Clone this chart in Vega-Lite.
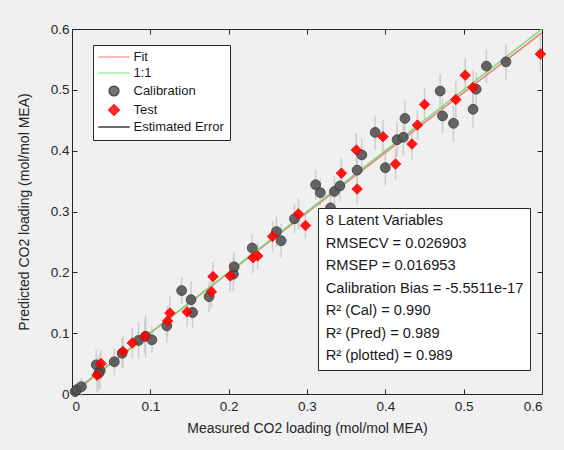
{
  "$schema": "https://vega.github.io/schema/vega-lite/v6.json",
  "width": 470,
  "height": 365,
  "autosize": {"type": "none"},
  "padding": {"left": 72, "top": 29, "right": 22, "bottom": 56},
  "background": "#f0f0f0",
  "config": {
    "font": "Liberation Sans",
    "view": {"fill": "white", "stroke": "#262626", "strokeWidth": 1},
    "axis": {
      "grid": false,
      "domain": false,
      "tickColor": "#262626",
      "tickSize": -5,
      "labelColor": "#262626",
      "labelFontSize": 13.5,
      "titleColor": "#262626",
      "titleFontSize": 14,
      "titleFontWeight": "normal"
    },
    "legend": {
      "labelFont": "Liberation Sans",
      "labelColor": "#1a1a1a",
      "labelFontSize": 13,
      "labelLimit": 320
    }
  },
  "datasets": {
    "pts": [
      {"s": "Calibration", "m": 0.004, "p": 0.004, "e": 0.010},
      {"s": "Calibration", "m": 0.006, "p": 0.007, "e": 0.012},
      {"s": "Calibration", "m": 0.012, "p": 0.012, "e": 0.015},
      {"s": "Calibration", "m": 0.031, "p": 0.048, "e": 0.025},
      {"s": "Calibration", "m": 0.036, "p": 0.038, "e": 0.030},
      {"s": "Calibration", "m": 0.034, "p": 0.034, "e": 0.028},
      {"s": "Calibration", "m": 0.054, "p": 0.053, "e": 0.022},
      {"s": "Calibration", "m": 0.064, "p": 0.067, "e": 0.025},
      {"s": "Calibration", "m": 0.085, "p": 0.088, "e": 0.030},
      {"s": "Calibration", "m": 0.094, "p": 0.095, "e": 0.035},
      {"s": "Calibration", "m": 0.102, "p": 0.089, "e": 0.022},
      {"s": "Calibration", "m": 0.121, "p": 0.112, "e": 0.028},
      {"s": "Calibration", "m": 0.140, "p": 0.170, "e": 0.022},
      {"s": "Calibration", "m": 0.152, "p": 0.155, "e": 0.030},
      {"s": "Calibration", "m": 0.154, "p": 0.134, "e": 0.025},
      {"s": "Calibration", "m": 0.175, "p": 0.160, "e": 0.025},
      {"s": "Calibration", "m": 0.206, "p": 0.197, "e": 0.028},
      {"s": "Calibration", "m": 0.207, "p": 0.209, "e": 0.025},
      {"s": "Calibration", "m": 0.230, "p": 0.240, "e": 0.022},
      {"s": "Calibration", "m": 0.261, "p": 0.267, "e": 0.025},
      {"s": "Calibration", "m": 0.267, "p": 0.252, "e": 0.028},
      {"s": "Calibration", "m": 0.284, "p": 0.288, "e": 0.025},
      {"s": "Calibration", "m": 0.311, "p": 0.344, "e": 0.025},
      {"s": "Calibration", "m": 0.317, "p": 0.331, "e": 0.022},
      {"s": "Calibration", "m": 0.330, "p": 0.306, "e": 0.025},
      {"s": "Calibration", "m": 0.335, "p": 0.333, "e": 0.025},
      {"s": "Calibration", "m": 0.342, "p": 0.342, "e": 0.025},
      {"s": "Calibration", "m": 0.364, "p": 0.368, "e": 0.030},
      {"s": "Calibration", "m": 0.370, "p": 0.393, "e": 0.028},
      {"s": "Calibration", "m": 0.387, "p": 0.430, "e": 0.028},
      {"s": "Calibration", "m": 0.400, "p": 0.372, "e": 0.030},
      {"s": "Calibration", "m": 0.415, "p": 0.418, "e": 0.028},
      {"s": "Calibration", "m": 0.423, "p": 0.422, "e": 0.030},
      {"s": "Calibration", "m": 0.425, "p": 0.453, "e": 0.030},
      {"s": "Calibration", "m": 0.470, "p": 0.498, "e": 0.028},
      {"s": "Calibration", "m": 0.473, "p": 0.457, "e": 0.028},
      {"s": "Calibration", "m": 0.487, "p": 0.445, "e": 0.030},
      {"s": "Calibration", "m": 0.512, "p": 0.468, "e": 0.030},
      {"s": "Calibration", "m": 0.516, "p": 0.501, "e": 0.028},
      {"s": "Calibration", "m": 0.529, "p": 0.539, "e": 0.028},
      {"s": "Calibration", "m": 0.554, "p": 0.546, "e": 0.030},
      {"s": "Test", "m": 0.032, "p": 0.031, "e": 0.028},
      {"s": "Test", "m": 0.037, "p": 0.050, "e": 0.022},
      {"s": "Test", "m": 0.065, "p": 0.070, "e": 0.025},
      {"s": "Test", "m": 0.077, "p": 0.084, "e": 0.025},
      {"s": "Test", "m": 0.093, "p": 0.095, "e": 0.028},
      {"s": "Test", "m": 0.122, "p": 0.120, "e": 0.025},
      {"s": "Test", "m": 0.125, "p": 0.133, "e": 0.028},
      {"s": "Test", "m": 0.147, "p": 0.135, "e": 0.025},
      {"s": "Test", "m": 0.178, "p": 0.168, "e": 0.028},
      {"s": "Test", "m": 0.180, "p": 0.193, "e": 0.025},
      {"s": "Test", "m": 0.202, "p": 0.194, "e": 0.025},
      {"s": "Test", "m": 0.231, "p": 0.224, "e": 0.025},
      {"s": "Test", "m": 0.237, "p": 0.227, "e": 0.022},
      {"s": "Test", "m": 0.256, "p": 0.259, "e": 0.025},
      {"s": "Test", "m": 0.289, "p": 0.296, "e": 0.025},
      {"s": "Test", "m": 0.298, "p": 0.277, "e": 0.022},
      {"s": "Test", "m": 0.344, "p": 0.363, "e": 0.025},
      {"s": "Test", "m": 0.363, "p": 0.401, "e": 0.028},
      {"s": "Test", "m": 0.364, "p": 0.337, "e": 0.025},
      {"s": "Test", "m": 0.397, "p": 0.423, "e": 0.028},
      {"s": "Test", "m": 0.413, "p": 0.378, "e": 0.025},
      {"s": "Test", "m": 0.434, "p": 0.411, "e": 0.025},
      {"s": "Test", "m": 0.441, "p": 0.442, "e": 0.025},
      {"s": "Test", "m": 0.450, "p": 0.476, "e": 0.028},
      {"s": "Test", "m": 0.490, "p": 0.484, "e": 0.030},
      {"s": "Test", "m": 0.502, "p": 0.524, "e": 0.028},
      {"s": "Test", "m": 0.512, "p": 0.504, "e": 0.028},
      {"s": "Test", "m": 0.598, "p": 0.559, "e": 0.030}
    ],
    "lines": [
      {"x": 0, "fit": 0.002, "one": 0},
      {"x": 0.6, "fit": 0.594, "one": 0.6}
    ],
    "stats": [
      {"stat": "8 Latent Variables"},
      {"stat": "RMSECV = 0.026903"},
      {"stat": "RMSEP = 0.016953"},
      {"stat": "Calibration Bias = -5.5511e-17"},
      {"stat": "R² (Cal) = 0.990"},
      {"stat": "R² (Pred) = 0.989"},
      {"stat": "R² (plotted) = 0.989"}
    ]
  },
  "resolve": {"axis": {"x": "independent", "y": "independent"}},
  "layer": [
    {
      "data": {"name": "pts"},
      "mark": {"type": "errorbar", "color": "#c4c4c4", "opacity": 0.8, "thickness": 1.5},
      "encoding": {
        "x": {"field": "m", "type": "quantitative", "scale": {"domain": [0, 0.6], "nice": false},
              "axis": {"title": "Measured CO2 loading (mol/mol MEA)", "values": [0, 0.1, 0.2, 0.3, 0.4, 0.5, 0.6], "format": "~g", "labelPadding": 10, "titlePadding": 9}},
        "y": {"field": "p", "type": "quantitative", "scale": {"domain": [0, 0.6], "nice": false},
              "axis": {"title": "Predicted CO2 loading (mol/mol MEA)", "values": [0, 0.1, 0.2, 0.3, 0.4, 0.5, 0.6], "format": "~g", "labelPadding": 8, "titlePadding": 19}},
        "yError": {"field": "e"}
      }
    },
    {
      "data": {"name": "lines"},
      "mark": {"type": "line", "color": "#f07878", "strokeWidth": 1.5},
      "encoding": {
        "x": {"field": "x", "type": "quantitative", "axis": null},
        "y": {"field": "fit", "type": "quantitative", "axis": null}
      }
    },
    {
      "data": {"name": "lines"},
      "mark": {"type": "line", "color": "#6fdc6f", "strokeWidth": 1.5},
      "encoding": {
        "x": {"field": "x", "type": "quantitative",
              "axis": {"orient": "top", "labels": false, "title": null, "values": [0, 0.1, 0.2, 0.3, 0.4, 0.5, 0.6]}},
        "y": {"field": "one", "type": "quantitative",
              "axis": {"orient": "right", "labels": false, "title": null, "values": [0, 0.1, 0.2, 0.3, 0.4, 0.5, 0.6]}}
      }
    },
    {
      "data": {"name": "pts"},
      "mark": {"type": "point", "filled": true, "opacity": 0.9, "strokeWidth": 1},
      "encoding": {
        "x": {"field": "m", "type": "quantitative", "axis": null},
        "y": {"field": "p", "type": "quantitative", "axis": null},
        "shape": {"field": "s", "type": "nominal",
                  "scale": {"domain": ["Fit", "1:1", "Calibration", "Test", "Estimated Error"], "range": ["M-3,0H3", "M-3,0H3", "circle", "diamond", "M-3,0H3"]},
                  "legend": {"title": null, "orient": "none", "legendX": 21, "legendY": 16, "fillColor": "white", "strokeColor": "#262626", "padding": 5.5, "rowPadding": 2, "symbolStrokeWidth": 1.5, "symbolOffset": 9, "labelOffset": 13}},
        "fill": {"field": "s", "type": "nominal",
                 "scale": {"domain": ["Fit", "1:1", "Calibration", "Test", "Estimated Error"], "range": ["#ff9a9a", "#9aee9a", "#555555", "#ff0000", "#262626"]}},
        "stroke": {"field": "s", "type": "nominal",
                   "scale": {"domain": ["Fit", "1:1", "Calibration", "Test", "Estimated Error"], "range": ["#ff9a9a", "#9aee9a", "#3a3a3a", "#ff0000", "#262626"]}},
        "size": {"field": "s", "type": "nominal",
                 "scale": {"type": "ordinal", "domain": ["Fit", "1:1", "Calibration", "Test", "Estimated Error"], "range": [110, 110, 95, 110, 110]}}
      }
    },
    {
      "data": {"name": "stats"},
      "mark": {"type": "point", "size": 0, "filled": true},
      "encoding": {
        "color": {"field": "stat", "type": "nominal",
                  "scale": {"domain": ["8 Latent Variables", "RMSECV = 0.026903", "RMSEP = 0.016953", "Calibration Bias = -5.5511e-17", "R² (Cal) = 0.990", "R² (Pred) = 0.989", "R² (plotted) = 0.989"], "range": ["transparent", "transparent", "transparent", "transparent", "transparent", "transparent", "transparent"]},
                  "legend": {"title": null, "orient": "none", "legendX": 246, "legendY": 179, "fillColor": "white", "strokeColor": "#262626", "padding": 6, "rowPadding": 6.5, "symbolSize": 0, "symbolOpacity": 0, "labelOffset": -13, "labelFontSize": 14.7}}
      }
    }
  ]
}
